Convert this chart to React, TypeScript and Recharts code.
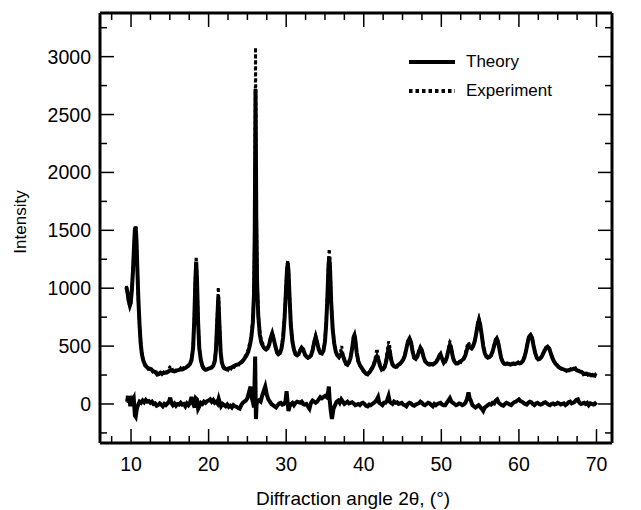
import { LineChart, Line, XAxis, YAxis, Legend } from 'recharts';

// 2θ positions (degrees) used by the fitted / measured patterns
const angle = [
  9.4, 9.55, 9.7, 9.85, 9.95, 10.1, 10.25, 10.4, 10.5, 10.6,
  10.7, 10.8, 10.95, 11.1, 11.25, 11.4, 11.6, 11.8, 12.0, 12.2,
  12.4, 12.6, 12.8, 13.0, 13.2, 13.4, 13.6, 13.8, 14.0, 14.2,
  14.4, 14.6, 14.8, 15.0, 15.2, 15.4, 15.6, 15.8, 16.0, 16.2,
  16.4, 16.6, 16.8, 17.0, 17.2, 17.4, 17.6, 17.8, 18.0, 18.15,
  18.3, 18.4, 18.5, 18.65, 18.8, 19.0, 19.2, 19.4, 19.6, 19.8,
  20.0, 20.2, 20.4, 20.6, 20.8, 20.95, 21.1, 21.25, 21.4, 21.55,
  21.7, 21.9, 22.1, 22.3, 22.5, 22.7, 22.9, 23.1, 23.3, 23.5,
  23.7, 23.9, 24.1, 24.3, 24.5, 24.7, 24.9, 25.1, 25.3, 25.5,
  25.7, 25.85, 25.95, 26.05, 26.15, 26.25, 26.4, 26.6, 26.8, 27.0,
  27.2, 27.4, 27.6, 27.8, 28.0, 28.2, 28.4, 28.6, 28.8, 29.0,
  29.2, 29.4, 29.6, 29.8, 29.95, 30.1, 30.2, 30.3, 30.45, 30.6,
  30.8, 31.0, 31.2, 31.4, 31.6, 31.8, 32.0, 32.2, 32.4, 32.6,
  32.8, 33.0, 33.2, 33.4, 33.6, 33.8, 34.0, 34.2, 34.4, 34.6,
  34.8, 35.0, 35.15, 35.3, 35.45, 35.55, 35.65, 35.8, 36.0, 36.2,
  36.4, 36.6, 36.8, 37.0, 37.15, 37.3, 37.5, 37.7, 37.9, 38.1,
  38.3, 38.5, 38.7, 38.8, 38.9, 39.1, 39.3, 39.5, 39.7, 39.9,
  40.1, 40.3, 40.5, 40.7, 40.9, 41.1, 41.3, 41.5, 41.7, 41.9,
  42.1, 42.3, 42.5, 42.7, 42.9, 43.05, 43.2, 43.35, 43.5, 43.7,
  43.9, 44.1, 44.3, 44.5, 44.7, 44.9, 45.1, 45.3, 45.5, 45.7,
  45.9, 46.1, 46.3, 46.5, 46.7, 46.9, 47.1, 47.3, 47.5, 47.7,
  47.9, 48.1, 48.3, 48.5, 48.7, 48.9, 49.1, 49.3, 49.5, 49.7,
  49.9, 50.1, 50.3, 50.5, 50.7, 50.9, 51.1, 51.3, 51.5, 51.7,
  51.9, 52.1, 52.3, 52.5, 52.7, 52.9, 53.1, 53.3, 53.5, 53.7,
  53.9, 54.1, 54.3, 54.5, 54.7, 54.85, 55.0, 55.2, 55.4, 55.6,
  55.8, 56.0, 56.2, 56.4, 56.6, 56.8, 57.0, 57.15, 57.3, 57.5,
  57.7, 57.9, 58.1, 58.3, 58.5, 58.7, 58.9, 59.1, 59.3, 59.5,
  59.7, 59.9, 60.1, 60.3, 60.5, 60.7, 60.9, 61.1, 61.3, 61.5,
  61.7, 61.9, 62.1, 62.3, 62.5, 62.7, 62.9, 63.1, 63.3, 63.5,
  63.7, 63.9, 64.1, 64.3, 64.5, 64.7, 64.9, 65.1, 65.3, 65.5,
  65.7, 65.9, 66.1, 66.3, 66.5, 66.7, 66.9, 67.1, 67.3, 67.5,
  67.7, 67.9, 68.1, 68.3, 68.5, 68.7, 68.9, 69.1, 69.3, 69.5,
  69.7, 69.85, 70.0,
];

const theory = [
  1010, 960, 890, 850, 870, 980, 1150, 1380, 1510, 1530,
  1420, 1200, 900, 680, 520, 430, 370, 340, 320, 310,
  305, 300, 285, 280, 275, 255, 260, 270, 262, 268,
  270, 272, 280, 290, 290, 285, 282, 290, 292, 295,
  300, 298, 305, 310, 320, 330, 345, 380, 480, 720,
  1080, 1230, 1080, 700, 480, 380, 330, 305, 295, 300,
  305, 310, 315, 330, 370, 470, 700, 925, 680, 450,
  360, 320, 305, 300, 305, 310, 315, 320, 330, 335,
  340, 345, 355, 365, 380, 400, 420, 450, 500, 570,
  700, 950, 1500, 2720, 1600, 1050, 760, 600, 530, 500,
  480, 470, 480, 510, 570, 610, 560, 500, 450, 430,
  440, 480, 570, 750, 950, 1150, 1215, 1150, 900, 680,
  540, 470, 430, 420, 430, 460, 485, 470, 430, 410,
  400, 405, 420, 460, 530, 580, 530, 470, 440, 435,
  460, 540, 680, 900, 1180, 1270, 1180, 880, 640, 520,
  450, 420, 405, 420, 440, 420, 380, 350, 340, 360,
  400, 480, 580, 595, 560, 440, 370, 335, 315, 295,
  275, 260, 255, 270, 290, 310, 340, 380, 410, 380,
  330, 300, 300, 320, 370, 430, 480, 460, 390, 340,
  325, 320, 330, 340, 350, 365, 385, 420, 480, 540,
  565, 530, 450, 400, 390, 410, 450, 485, 460, 410,
  370, 355, 345, 340, 345, 340, 350, 360, 380, 410,
  430, 390, 360, 365, 400, 460, 510, 470, 400, 365,
  350, 350, 360, 370, 380, 390, 420, 470, 500, 490,
  480, 500, 540, 610, 690, 725, 690, 600, 500, 440,
  410, 400, 405, 420, 450, 500, 550, 565, 540, 470,
  400, 365, 350, 345, 350, 345, 340, 345, 350, 345,
  350, 355, 350, 355, 370, 400, 450, 520, 580, 595,
  570, 500, 440, 400, 385, 390, 405, 430, 460, 485,
  495, 480, 440, 400, 370, 350, 335, 320, 310, 305,
  300, 295, 292, 290, 295, 298, 300, 305, 300, 290,
  285, 280, 275, 265, 260, 262, 258, 255, 250, 248,
  245, 243, 240,
];

const experiment = [
  1020, 950, 880, 840, 860, 990, 1160, 1370, 1500, 1535,
  1410, 1190, 880, 670, 530, 440, 380, 330, 325, 300,
  300, 310, 280, 290, 265, 245, 255, 280, 258, 275,
  262, 280, 285, 320, 330, 280, 290, 285, 300, 290,
  310, 290, 315, 320, 315, 340, 350, 390, 500, 740,
  1110, 1275, 1100, 720, 490, 375, 320, 300, 305, 295,
  300, 315, 320, 340, 380, 490, 730, 1010, 700, 460,
  370, 310, 300, 310, 295, 320, 305, 330, 320, 345,
  350, 340, 365, 360, 395, 410, 440, 470, 530, 600,
  720, 990, 1600, 3080, 1750, 1100, 790, 620, 545, 520,
  500, 480, 470, 520, 580, 620, 570, 490, 440, 420,
  450, 490, 590, 770, 980, 1190, 1245, 1170, 930, 700,
  550, 480, 440, 410, 440, 470, 495, 475, 420, 400,
  395, 410, 430, 470, 540, 590, 540, 480, 450, 440,
  470, 560, 700, 930, 1240, 1340, 1230, 910, 660, 530,
  460, 410, 400, 450, 500, 440, 390, 340, 335, 370,
  410, 490, 590, 600, 570, 430, 360, 330, 320, 285,
  270, 255, 265, 275, 300, 320, 350, 410, 480, 400,
  340, 295, 310, 330, 390, 470, 540, 500, 410, 350,
  330, 325, 320, 350, 345, 370, 380, 430, 490, 545,
  575, 540, 460, 395, 385, 420, 460, 490, 470, 400,
  375, 350, 340, 350, 335, 345, 345, 365, 390, 420,
  440, 385, 350, 370, 410, 480, 545, 490, 410, 360,
  355, 345, 365, 360, 390, 400, 440, 500, 535, 500,
  490, 510, 550, 620, 705, 740, 700, 610, 510, 445,
  415, 400, 410, 415, 460, 510, 560, 575, 545, 480,
  410, 360, 345, 355, 345, 350, 335, 350, 345, 355,
  345, 360, 340, 360, 375, 410, 460, 530, 590, 600,
  575, 505, 445, 395, 380, 395, 410, 440, 470, 490,
  500, 490, 445, 410, 365, 345, 340, 315, 315, 300,
  295, 300, 285, 300, 290, 305, 310, 300, 310, 285,
  290, 275, 280, 255, 265, 270, 250, 260, 245, 255,
  240, 255, 245,
];

// difference curve (experiment - theory), drawn around zero
const residualAngle = [
  9.5, 9.6, 9.7, 9.8, 9.9, 10.0, 10.1, 10.2, 10.35, 10.5,
  10.6, 10.75, 10.9, 11.1, 11.3, 11.5, 11.7, 11.9, 12.1, 12.3,
  12.5, 12.7, 12.9, 13.1, 13.3, 13.5, 13.7, 13.9, 14.1, 14.3,
  14.5, 14.7, 14.9, 15.05, 15.2, 15.4, 15.6, 15.8, 16.0, 16.2,
  16.4, 16.6, 16.8, 17.0, 17.2, 17.4, 17.6, 17.8, 18.0, 18.2,
  18.35, 18.5, 18.65, 18.8, 19.0, 19.2, 19.4, 19.6, 19.8, 20.0,
  20.2, 20.4, 20.6, 20.8, 21.0, 21.15, 21.3, 21.45, 21.6, 21.8,
  22.0, 22.2, 22.4, 22.6, 22.8, 23.0, 23.2, 23.4, 23.6, 23.8,
  24.0, 24.2, 24.4, 24.6, 24.8, 25.0, 25.2, 25.4, 25.55, 25.7,
  25.85, 26.0, 26.1, 26.2, 26.35, 26.5, 26.7, 26.9, 27.1, 27.3,
  27.5, 27.7, 27.9, 28.1, 28.3, 28.5, 28.7, 28.9, 29.1, 29.3,
  29.5, 29.7, 29.9, 30.05, 30.15, 30.3, 30.45, 30.6, 30.8, 31.0,
  31.2, 31.4, 31.6, 31.8, 32.0, 32.2, 32.4, 32.6, 32.8, 33.0,
  33.2, 33.4, 33.6, 33.8, 34.0, 34.2, 34.4, 34.6, 34.8, 35.0,
  35.2, 35.4, 35.5, 35.6, 35.75, 35.9, 36.1, 36.3, 36.5, 36.7,
  36.9, 37.1, 37.3, 37.5, 37.7, 37.9, 38.1, 38.3, 38.5, 38.7,
  38.9, 39.1, 39.3, 39.5, 39.7, 39.9, 40.1, 40.3, 40.5, 40.7,
  40.9, 41.1, 41.3, 41.5, 41.7, 41.85, 42.0, 42.2, 42.4, 42.6,
  42.8, 43.0, 43.2, 43.35, 43.5, 43.7, 43.9, 44.1, 44.3, 44.5,
  44.7, 44.9, 45.1, 45.3, 45.5, 45.7, 45.9, 46.1, 46.3, 46.5,
  46.7, 46.9, 47.1, 47.3, 47.5, 47.7, 47.9, 48.1, 48.3, 48.5,
  48.7, 48.9, 49.1, 49.3, 49.5, 49.7, 49.9, 50.1, 50.3, 50.5,
  50.7, 50.9, 51.1, 51.3, 51.5, 51.7, 51.9, 52.1, 52.3, 52.5,
  52.7, 52.9, 53.1, 53.3, 53.5, 53.65, 53.8, 54.0, 54.2, 54.4,
  54.6, 54.8, 55.0, 55.2, 55.4, 55.6, 55.8, 56.0, 56.2, 56.4,
  56.6, 56.8, 57.0, 57.2, 57.4, 57.6, 57.8, 58.0, 58.2, 58.4,
  58.6, 58.8, 59.0, 59.2, 59.4, 59.6, 59.8, 60.0, 60.2, 60.4,
  60.6, 60.8, 61.0, 61.2, 61.4, 61.6, 61.8, 62.0, 62.2, 62.4,
  62.6, 62.8, 63.0, 63.2, 63.4, 63.6, 63.8, 64.0, 64.2, 64.4,
  64.6, 64.8, 65.0, 65.2, 65.4, 65.6, 65.8, 66.0, 66.2, 66.4,
  66.6, 66.8, 67.0, 67.2, 67.4, 67.6, 67.8, 68.0, 68.2, 68.4,
  68.6, 68.8, 69.0, 69.2, 69.4, 69.6, 69.8, 70.0,
];

const residual = [
  20, 70, 10, 60, -20, 40, 70, 30, 50, -100,
  -110, -40, -10, 20, 10, 30, 15, 35, 20, 25,
  10, 20, 0, 5, -15, -10, 5, -5, -20, 0,
  -10, 5, 20, 55, 10, -10, 5, -15, 0, -5,
  10, -5, 0, -20, 5, -10, 10, 60, 5, -30,
  50, 40, -40, -20, 10, 0, 20, 10, 25, 30,
  40, 20, 35, 10, 20, 5, 45, 10, -20, 0,
  -10, -20, -5, -25, -15, -30, -10, -20, -25, -35,
  -40, -10, 10, 20, 30, 50, 100, 150, 60, 20,
  -30, 410, -130, 10, 20, 30, 20, 70, 110, 150,
  80, 40, 20, 0, -10, -20, -30, -10, 5, 10,
  -5, 0, 20, 110, 40, -60, -20, 0, 10, -10,
  10, 20, 15, 10, 20, 0, -5, 0, -20, -40,
  10, 30, 20, 10, 20, 40, 60, 50, 60, 70,
  60, 100, 150, 40, -60, -130, -40, -10, 20, 30,
  10, 40, 20, 0, 10, 20, 5, 10, 15, 5,
  -10, -5, 0, -10, 5, 10, 0, -15, -20, -5,
  -10, 0, 10, 20, 40, 60, 10, 0, -10, 10,
  10, 30, 70, 20, 10, 0, 20, 10, 15, 0,
  5, 10, -5, -10, -20, 0, 10, 5, -10, -15,
  -5, 0, 5, 20, 10, -5, -10, 0, 10, 5,
  -10, -20, 0, -10, 0, 5, 10, -5, -10, -10,
  10, 30, 50, 20, 10, 0, -10, -5, 5, 0,
  -10, -5, 10, 40, 100, 50, 30, -10, -20, -30,
  -20, -10, -25, -40, -60, -30, -20, -10, 0, -5,
  10, 5, 30, 40, 10, 0, -10, -15, 0, 10,
  5, -5, -10, 5, 15, 20, 30, 40, 25, 20,
  10, 0, -5, 10, 20, 15, 0, -10, 5, 10,
  0, -5, 0, 10, 15, 5, -5, -10, 0, 5,
  -5, 0, 10, 5, -5, 0, 5, -10, 0, 15,
  20, 5, 10, 20, 35, 40, 10, 0, 5, 10,
  0, 10, -10, 5, 0, -5, 5, -10,
];

const xTicks = [7.5, 10, 12.5, 15, 17.5, 20, 22.5, 25, 27.5, 30, 32.5, 35, 37.5, 40, 42.5, 45, 47.5, 50, 52.5, 55, 57.5, 60, 62.5, 65, 67.5, 70];
const yTicks = [-250, 0, 250, 500, 750, 1000, 1250, 1500, 1750, 2000, 2250, 2500, 2750, 3000, 3250];

const patternData = angle.map((a, i) => ({ angle: a, theory: theory[i], experiment: experiment[i] }));
const residualData = residualAngle.map((a, i) => ({ angle: a, residual: residual[i] }));

const FONT = '"Liberation Sans", Arial, Helvetica, sans-serif';
const W = 641;
const H = 510;
// plot frame: x 100..612, y 13..443 (axes take 1px each)
const M = { top: 12, right: 28, bottom: 66, left: 99 };
const LEFT = 100;
const RIGHT = 612;
const TOP = 13;
const BOTTOM = 443;
const X_DOMAIN = [6, 72];
const Y_DOMAIN = [-337, 3377];

const isMajorX = (v: number) => v % 10 === 0;
const isMajorY = (v: number) => v % 500 === 0;

function BottomTick({ x, payload }: any) {
  const v = payload.value;
  const major = isMajorX(v);
  return (
    <g>
      <line x1={x} x2={x} y1={BOTTOM} y2={BOTTOM - (major ? 14 : 7)} stroke="#000" strokeWidth={1.5} />
      {major && (
        <text x={x} y={BOTTOM + 21} textAnchor="middle" dominantBaseline="central" fontFamily={FONT} fontSize={19.5} fill="#000">
          {v}
        </text>
      )}
    </g>
  );
}

function TopTick({ x, payload }: any) {
  const major = isMajorX(payload.value);
  return <line x1={x} x2={x} y1={TOP} y2={TOP + (major ? 14 : 7)} stroke="#000" strokeWidth={1.5} />;
}

function LeftTick({ y, payload }: any) {
  const v = payload.value;
  const major = isMajorY(v);
  return (
    <g>
      <line x1={LEFT} x2={LEFT + (major ? 14 : 7)} y1={y} y2={y} stroke="#000" strokeWidth={1.5} />
      {major && (
        <text x={LEFT - 9} y={y} textAnchor="end" dominantBaseline="central" fontFamily={FONT} fontSize={19.5} fill="#000">
          {v}
        </text>
      )}
    </g>
  );
}

function RightTick({ y, payload }: any) {
  const major = isMajorY(payload.value);
  return <line x1={RIGHT} x2={RIGHT - (major ? 14 : 7)} y1={y} y2={y} stroke="#000" strokeWidth={1.5} />;
}

function LegendBox() {
  const row = (dash: string | undefined, label: string) => (
    <div style={{ display: 'flex', alignItems: 'center', height: 29 }}>
      <svg width={46} height={8} style={{ display: 'block' }}>
        <line x1={0} x2={46} y1={4} y2={4} stroke="#000" strokeWidth={4} strokeDasharray={dash} />
      </svg>
      <span style={{ marginLeft: 11 }}>{label}</span>
    </div>
  );
  return (
    <div style={{ fontFamily: FONT, fontSize: 17, color: '#000', lineHeight: '20px' }}>
      {row(undefined, 'Theory')}
      {row('3.5 3', 'Experiment')}
    </div>
  );
}

export default function App() {
  return (
    <div style={{ position: 'fixed', left: 0, top: 0, width: 641, height: 510, overflow: 'hidden', background: '#fff' }}>
      <LineChart width={W} height={H} margin={M}>
        <XAxis
          dataKey="angle"
          type="number"
          domain={X_DOMAIN}
          allowDataOverflow
          ticks={xTicks}
          interval={0}
          height={1}
          tickLine={false}
          axisLine={{ stroke: '#000', strokeWidth: 3 }}
          tick={BottomTick}
          label={() => (
            <text x={353} y={498} textAnchor="middle" dominantBaseline="central" fontFamily={FONT} fontSize={19} fill="#000">
              Diffraction angle 2θ, (°)
            </text>
          )}
        />
        <XAxis
          xAxisId="top"
          orientation="top"
          dataKey="angle"
          type="number"
          domain={X_DOMAIN}
          allowDataOverflow
          ticks={xTicks}
          interval={0}
          height={1}
          tickLine={false}
          axisLine={{ stroke: '#000', strokeWidth: 3 }}
          tick={TopTick}
        />
        <YAxis
          type="number"
          domain={Y_DOMAIN}
          allowDataOverflow
          ticks={yTicks}
          interval={0}
          width={1}
          tickLine={false}
          axisLine={{ stroke: '#000', strokeWidth: 3 }}
          tick={LeftTick}
          label={() => (
            <text x={20} y={222} textAnchor="middle" dominantBaseline="central" transform="rotate(-90 20 222)" fontFamily={FONT} fontSize={17} fill="#000">
              Intensity
            </text>
          )}
        />
        <YAxis
          yAxisId="right"
          orientation="right"
          type="number"
          domain={Y_DOMAIN}
          allowDataOverflow
          ticks={yTicks}
          interval={0}
          width={1}
          tickLine={false}
          axisLine={{ stroke: '#000', strokeWidth: 3 }}
          tick={RightTick}
        />
        <Legend
          layout="horizontal"
          verticalAlign="middle"
          align="center"
          content={LegendBox}
          wrapperStyle={{ left: 409, top: 47, width: 200, height: 60 }}
        />
        <Line
          data={patternData}
          dataKey="experiment"
          type="linear"
          stroke="#000"
          strokeWidth={3}
          strokeDasharray="3 3"
          dot={false}
          isAnimationActive={false}
        />
        <Line
          data={patternData}
          dataKey="theory"
          type="linear"
          stroke="#000"
          strokeWidth={4}
          dot={false}
          isAnimationActive={false}
        />
        <Line
          data={residualData}
          dataKey="residual"
          type="linear"
          stroke="#000"
          strokeWidth={4}
          dot={false}
          isAnimationActive={false}
        />
      </LineChart>
    </div>
  );
}
